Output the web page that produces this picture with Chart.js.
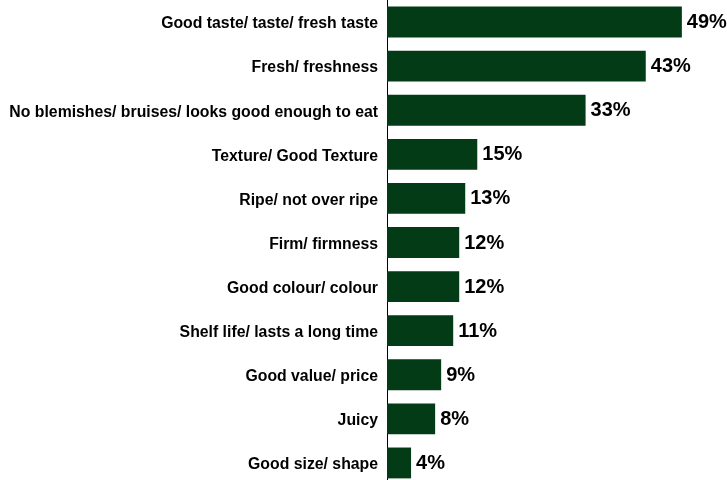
<!DOCTYPE html>
<html>
<head>
<meta charset="utf-8">
<script src="https://cdn.jsdelivr.net/npm/chart.js@4/dist/chart.umd.min.js"></script>
<style>
  html, body { margin: 0; padding: 0; background: #fff; overflow: hidden; }
  #wrap { width: 727px; height: 485px; }
</style>
</head>
<body>
<div id="wrap"><canvas id="chart" width="727" height="485"></canvas></div>
<script>
// Reasons given for choosing produce (share of respondents, %)
const categories = [
  'Good taste/ taste/ fresh taste',
  'Fresh/ freshness',
  'No blemishes/ bruises/ looks good enough to eat',
  'Texture/ Good Texture',
  'Ripe/ not over ripe',
  'Firm/ firmness',
  'Good colour/ colour',
  'Shelf life/ lasts a long time',
  'Good value/ price',
  'Juicy',
  'Good size/ shape'
];
const shares = [49, 43, 33, 15, 13, 12, 12, 11, 9, 8, 4];

const FONT = '"Liberation Sans", Arial, Helvetica, sans-serif';

// Writes the percentage just past the end of each bar
const valueLabels = {
  id: 'valueLabels',
  afterDatasetsDraw(chart) {
    const ctx = chart.ctx;
    const meta = chart.getDatasetMeta(0);
    ctx.save();
    ctx.font = 'bold 20px ' + FONT;
    ctx.fillStyle = '#000';
    ctx.textAlign = 'left';
    ctx.textBaseline = 'middle';
    meta.data.forEach((bar, i) => {
      ctx.fillText(shares[i] + '%', bar.x + 5, bar.y + 0.5);
    });
    ctx.restore();
  }
};

new Chart(document.getElementById('chart'), {
  type: 'bar',
  data: {
    labels: categories,
    datasets: [{
      data: shares,
      backgroundColor: '#033b17',
      borderWidth: 0,
      categoryPercentage: 1,
      barPercentage: 0.70
    }]
  },
  options: {
    indexAxis: 'y',
    responsive: false,
    animation: false,
    layout: { padding: { left: 0, right: 0, top: 0, bottom: 0 } },
    plugins: {
      legend: { display: false },
      tooltip: { enabled: false }
    },
    scales: {
      x: {
        display: false,
        min: 0,
        max: 56.5
      },
      y: {
        afterFit(scale) {
          // fixed label column; bars run edge to edge vertically
          scale.width = 387;
          scale.paddingTop = 0;
          scale.paddingBottom = 0;
        },
        grid: { display: false, drawTicks: false },
        border: { display: true, color: '#000', width: 1 },
        ticks: {
          padding: 9,
          labelOffset: 2,
          color: '#000',
          font: { family: FONT, size: 15.8, weight: 'bold' }
        }
      }
    }
  },
  plugins: [valueLabels]
});
</script>
</body>
</html>
